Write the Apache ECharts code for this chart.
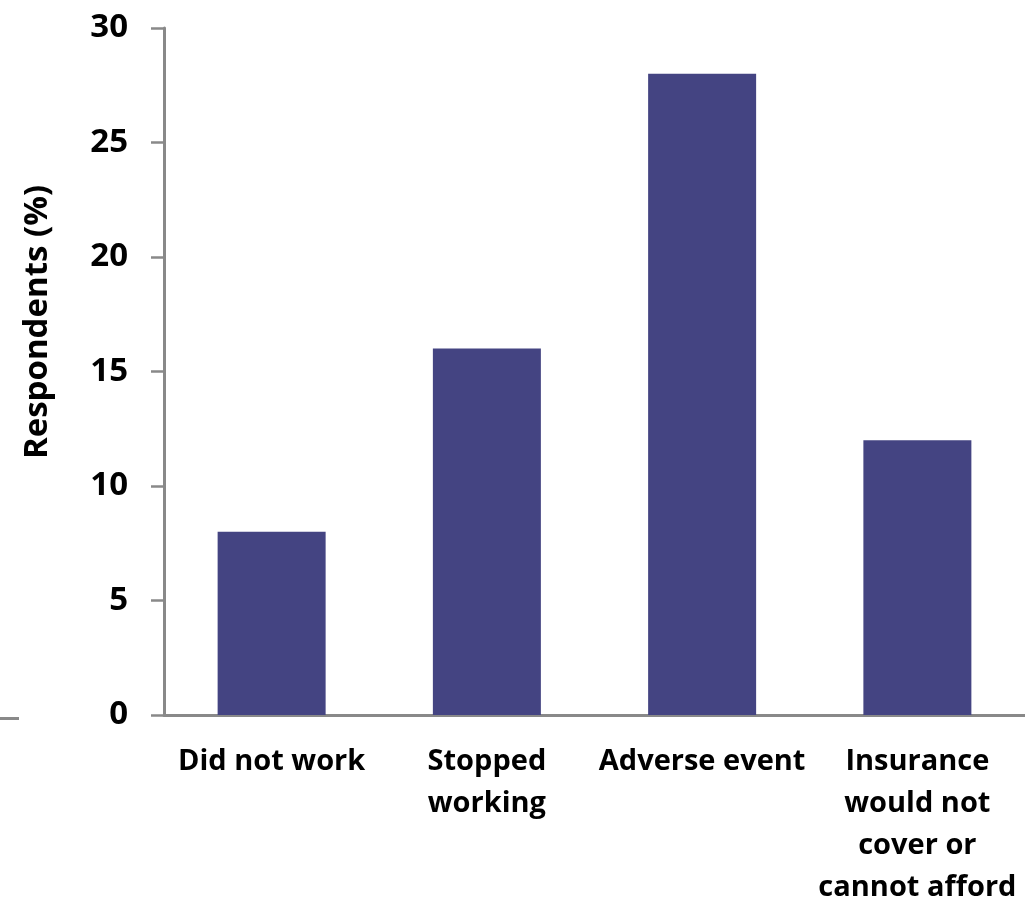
<!DOCTYPE html>
<html>
<head>
<meta charset="utf-8">
<script src="https://cdn.jsdelivr.net/npm/echarts@6/dist/echarts.min.js"></script>
<style>
  html, body { margin: 0; padding: 0; background: #ffffff; }
  #chart { width: 1025px; height: 909px; }
</style>
</head>
<body>
<div id="chart"></div>
<script>
// Reasons for discontinuation, share of respondents
const categories = [
  'Did not work',
  'Stopped\nworking',
  'Adverse event',
  'Insurance\nwould not\ncover or\ncannot afford'
];
const respondentsPct = [8, 16, 28, 12];
const yTicks = { min: 0, max: 30, interval: 5 };

const FONT = '"Open Sans", "Liberation Sans", sans-serif';
const AXIS_GRAY = '#898989';
const BAR_COLOR = '#444482';

const chart = echarts.init(document.getElementById('chart'), null, { renderer: 'canvas' });

chart.setOption({
  animation: false,
  backgroundColor: '#ffffff',
  grid: { left: 164, right: 0, top: 28, bottom: 191, containLabel: false },
  xAxis: {
    type: 'category',
    data: categories,
    axisLine: { show: true, lineStyle: { color: AXIS_GRAY, width: 3 } },
    axisTick: { show: false },
    axisLabel: {
      interval: 0,
      color: '#000',
      fontFamily: FONT,
      fontWeight: 'bold',
      fontSize: 29,
      lineHeight: 42,
      margin: 26,
      align: 'center'
    },
    splitLine: { show: false }
  },
  yAxis: {
    type: 'value',
    min: yTicks.min,
    max: yTicks.max,
    interval: yTicks.interval,
    axisLine: { show: true, lineStyle: { color: AXIS_GRAY, width: 3 } },
    axisTick: { show: true, length: 13, lineStyle: { color: AXIS_GRAY, width: 2.5 } },
    axisLabel: {
      color: '#000',
      fontFamily: FONT,
      fontWeight: 'bold',
      fontSize: 33,
      margin: 36
    },
    splitLine: { show: false }
  },
  series: [{
    type: 'bar',
    data: respondentsPct,
    barWidth: 108,
    itemStyle: { color: BAR_COLOR }
  }],
  graphic: [
    {
      // vertical axis title, centred on its own anchor point
      type: 'text',
      x: 38,
      y: 322,
      rotation: Math.PI / 2,
      style: {
        text: 'Respondents (%)',
        fill: '#000',
        font: 'bold 33px ' + FONT,
        align: 'center',
        verticalAlign: 'middle'
      }
    },
    {
      type: 'line',
      shape: { x1: 0, y1: 718.5, x2: 19, y2: 718.5 },
      style: { stroke: AXIS_GRAY, lineWidth: 3 }
    }
  ]
});
</script>
</body>
</html>
